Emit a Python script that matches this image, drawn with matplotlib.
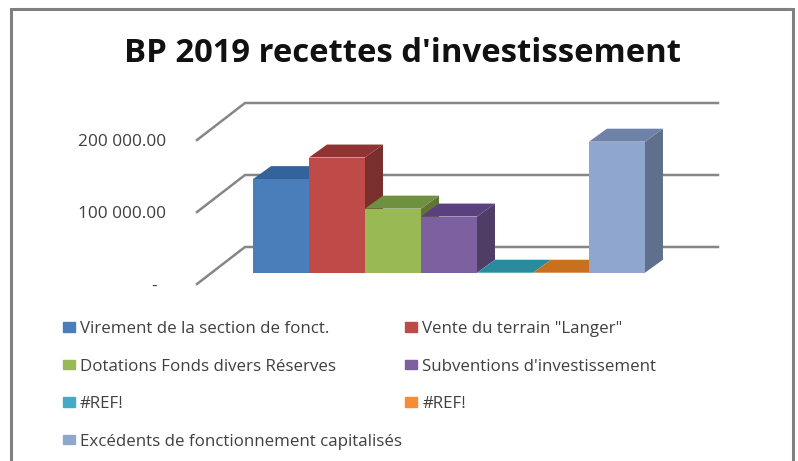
import matplotlib
matplotlib.use('Agg')
import matplotlib.pyplot as plt
from matplotlib.patches import Patch, Rectangle, Polygon

title = "BP 2019 recettes d'investissement"
labels = ['Virement de la section de fonct.', 'Vente du terrain "Langer"',
          'Dotations Fonds divers Réserves', "Subventions d'investissement",
          '#REF!', '#REF!', 'Excédents de fonctionnement capitalisés']
values = [130000, 160000, 89000, 78000, 0, 0, 182000]
tick_values = [0, 100000, 200000]
tick_labels = ['-  ', '100 000.00', '200 000.00']

front_colors = ['#4A7EBB', '#BE4B48', '#98B954', '#7D60A0', '#2C8FA8', '#C8701E', '#8FA6CF']
top_colors = ['#33639A', '#8F3432', '#6F9040', '#5B4080', '#2A8A9E', '#C8701E', '#6E82A8']
side_colors = ['#2F5079', '#782F2D', '#607535', '#4F3D65', '#1C5B6B', '#7F4713', '#5F6F8C']
legend_colors = ['#4A7EBB', '#BE4B48', '#98B954', '#7D60A0', '#46AAC4', '#F68C36', '#8FA6CF']

# oblique depth, x in category units, y in value units
wall_dx = 48 / 56
wall_dy = 51400
bar_dx = 18 / 56
bar_dy = 18000
bar_front = -35700

fig = plt.figure(figsize=(7.98, 4.61), dpi=100)
ax = fig.add_axes([197 / 798, 1 - 284 / 461, (718 - 197) / 798, 181 / 461])
ax.set_xlim(-1.5, 7.804)
ax.set_ylim(-wall_dy, 200000)
for s in ax.spines.values():
    s.set_visible(False)
ax.set_xticks([])
ax.set_yticks([t - wall_dy for t in tick_values])
ax.set_yticklabels(tick_labels, fontfamily='Open Sans', fontsize=12.4, color='#404040')
ax.tick_params(axis='y', length=0, pad=22)

# gridlines on the floor and back wall
for t in tick_values:
    ax.plot([-1.5, -1.5 + wall_dx, 7.804], [t - wall_dy, t, t], color='#868686', lw=1.8, zorder=1,
            clip_on=False)

for i, v in enumerate(values):
    x0 = i - 0.5
    x1 = i + 0.5
    base = bar_front
    top = base + v
    ax.add_patch(Polygon([(x1, base), (x1 + bar_dx, base + bar_dy), (x1 + bar_dx, top + bar_dy), (x1, top)],
                         fc=side_colors[i], ec='none', zorder=2 + i))
    ax.add_patch(Polygon([(x0, top), (x1, top), (x1 + bar_dx, top + bar_dy), (x0 + bar_dx, top + bar_dy)],
                         fc=top_colors[i], ec='none', zorder=2 + i))
    ax.bar(i, v, width=1, bottom=base, color=front_colors[i], zorder=2 + i)

fig.text(402 / 798, 1 - 54 / 461, title, fontfamily='Open Sans', fontweight='bold', fontsize=23.7,
         color='#111111', ha='center', va='center')

handles = [Patch(color=c, label=l) for c, l in zip(legend_colors, labels)]
order = [0, 2, 4, 6, 1, 3, 5]
fig.legend([handles[i] for i in order], [labels[i] for i in order], ncol=2, frameon=False,
           loc='upper left', bbox_to_anchor=(63 / 798, 1 - 321 / 461), borderaxespad=0, borderpad=0,
           prop={'family': 'Open Sans', 'size': 12.2}, labelcolor='#404040',
           handlelength=0.7, handleheight=0.46, handletextpad=0.3, labelspacing=1.27, columnspacing=0.2)

# chart border, the bottom edge is cut off
fig.add_artist(Rectangle((11 / 798, -0.1), (793 - 11) / 798, 1.1 - 9 / 461, transform=fig.transFigure,
                         fill=False, ec='#808080', lw=2.2))

fig.savefig('out.png', dpi=100)
